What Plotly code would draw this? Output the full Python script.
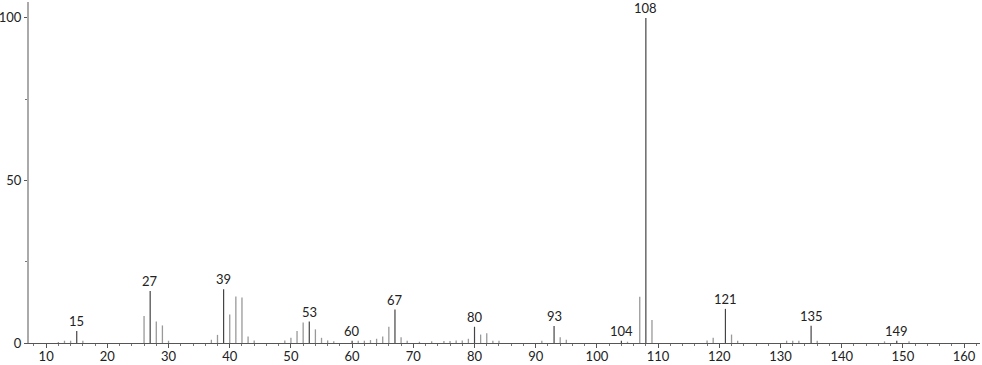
import plotly.graph_objects as go

# m/z values and relative intensities
masses = [12, 13, 14, 15, 16, 26, 27, 28, 29, 30, 37, 38, 39, 40, 41, 42, 43, 44,
          49, 50, 51, 52, 53, 54, 55, 56, 57, 60, 61, 62, 63, 64, 65, 66, 67, 68, 69,
          71, 73, 75, 76, 77, 78, 79, 80, 81, 82, 83, 84, 91, 93, 94, 95,
          104, 105, 107, 108, 109, 118, 119, 121, 122, 123, 131, 132, 133,
          135, 136, 147, 149, 151]
intensity = [0.3, 0.7, 0.7, 3.7, 0.7, 8.3, 16.0, 6.6, 5.4, 0.7, 1.0, 2.5, 16.5, 8.8, 14.3, 14.0, 2.0, 0.8,
             0.8, 1.6, 3.7, 6.3, 6.6, 4.2, 1.6, 0.8, 0.5, 0.7, 0.7, 0.7, 0.9, 1.3, 2.0, 5.0, 10.3, 1.8, 0.7,
             0.4, 0.5, 0.6, 0.6, 0.8, 0.8, 1.3, 5.0, 2.6, 3.0, 0.7, 0.7, 0.7, 5.2, 1.8, 1.0,
             0.7, 0.4, 14.2, 100.0, 7.1, 0.8, 1.6, 10.5, 2.6, 0.7, 0.7, 0.7, 0.7,
             5.3, 0.7, 0.5, 0.7, 0.5]
labeled = [15, 27, 39, 53, 60, 67, 80, 93, 104, 108, 121, 135, 149]

x_major = [10, 20, 30, 40, 50, 60, 70, 80, 90, 100, 110, 120, 130, 140, 150, 160]
y_major = [0, 50, 100]

FONT = "Lato, 'Open Sans', sans-serif"

fig = go.Figure()

def segs(ms, vs):
    xs, ys = [], []
    for m, v in zip(ms, vs):
        xs += [m, m, None]
        ys += [0, v, None]
    return xs, ys

light_m = [m for m in masses if m not in labeled]
light_v = [v for m, v in zip(masses, intensity) if m not in labeled]
dark_m = [m for m in masses if m in labeled]
dark_v = [v for m, v in zip(masses, intensity) if m in labeled]

xs, ys = segs(light_m, light_v)
fig.add_trace(go.Scatter(x=xs, y=ys, mode="lines",
                         line=dict(color="#999999", width=1.3),
                         hoverinfo="skip", showlegend=False))
xs, ys = segs(dark_m, dark_v)
fig.add_trace(go.Scatter(x=xs, y=ys, mode="lines",
                         line=dict(color="#444444", width=1.2),
                         hoverinfo="skip", showlegend=False))

for m, v in zip(dark_m, dark_v):
    fig.add_annotation(x=m, y=v, text=str(m), showarrow=False,
                       yanchor="bottom", xanchor="center", yshift=0,
                       font=dict(family=FONT, size=13, color="#222222"))

fig.update_layout(
    width=982, height=365,
    margin=dict(l=29, r=2, t=2, b=22, autoexpand=False),
    paper_bgcolor="white", plot_bgcolor="white",
    font=dict(family=FONT, size=13, color="#222222"),
)
fig.update_xaxes(
    range=[7.2, 162.6], showgrid=False, zeroline=False, automargin=False,
    showline=True, linecolor="#555555", linewidth=1,
    tickmode="array", tickvals=x_major, ticktext=[str(v) for v in x_major],
    ticks="outside", ticklen=4, tickcolor="#555555", tickwidth=1,
    ticklabelstandoff=-3,
    minor=dict(dtick=2, tick0=0, ticks="outside", ticklen=2, tickcolor="#777777", tickwidth=1),
    tickfont=dict(family=FONT, size=13, color="#222222"),
)
fig.update_yaxes(
    range=[0, 104.9], showgrid=False, zeroline=False, automargin=False,
    showline=True, linecolor="#aaaaaa", linewidth=2,
    tickmode="array", tickvals=y_major, ticktext=[str(v) for v in y_major],
    ticks="outside", ticklen=3, tickcolor="#555555", tickwidth=1,
    minor=dict(tickvals=[25, 75], ticks="outside", ticklen=2, tickcolor="#777777", tickwidth=1),
    tickfont=dict(family=FONT, size=13, color="#222222"),
)

fig.write_html("out.html")
